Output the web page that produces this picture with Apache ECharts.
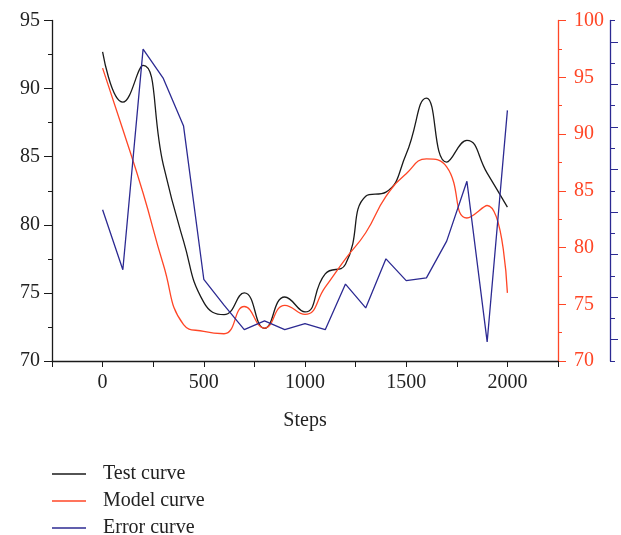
<!DOCTYPE html>
<html><head><meta charset="utf-8">
<script src="https://cdn.jsdelivr.net/npm/echarts@6/dist/echarts.min.js"></script>
<style>html,body{margin:0;padding:0;background:#fff}#c{width:621px;height:535px}</style>
</head><body><div id="c"></div>
<script>
var steps = [0,100,200,300,400,500,600,700,800,900,1000,1100,1200,1300,1400,1500,1600,1700,1800,1900,2000];
var testCurve = [92.7,89.0,91.7,84.4,78.8,74.3,73.4,75.0,72.4,74.7,73.6,76.4,77.1,82.1,82.4,85.2,89.3,84.6,86.2,83.8,81.3];
var modelCurve = [95.8,90.4,84.8,78.5,73.2,72.6,72.4,74.8,72.9,74.9,74.1,76.5,79.0,81.3,84.5,86.5,87.8,87.1,82.6,83.7,76.0];
var errorCurve = [81.1,76.7,92.9,90.75,87.25,76.0,74.1,72.3,72.95,72.3,72.75,72.3,75.65,73.9,77.5,75.9,76.1,78.8,83.2,71.4,88.4];
var seriesNames = ['Test curve','Model curve','Error curve'];

function pairs(vals){ return steps.map(function(s,i){ return [s, vals[i]]; }); }
var FONT = 'Liberation Serif';
var RED = '#ff4626', BLUE = '#2c2a92', BLACK = '#1a1a1a';

var chart = echarts.init(document.getElementById('c'), null, {renderer:'canvas'});
chart.setOption({
  backgroundColor:'#fff',
  animation:false,
  textStyle:{fontFamily:FONT},
  grid:{left:52, right:63, top:20.5, bottom:174, containLabel:false},
  legend:{
    orient:'vertical', left:52, top:464, height:80, padding:0,
    icon:'rect', itemWidth:34, itemHeight:1.6, itemGap:7,
    data:seriesNames,
    textStyle:{fontFamily:FONT, fontSize:20, color:'#222', lineHeight:20, padding:[0,0,0,12]}
  },
  xAxis:{
    type:'value', min:-250, max:2250, interval:250,
    name:'Steps', nameLocation:'middle', nameGap:50,
    nameTextStyle:{fontFamily:FONT, fontSize:20, color:'#222'},
    axisLine:{onZero:false, lineStyle:{color:BLACK, width:1.3}},
    axisTick:{length:6, lineStyle:{color:BLACK}},
    axisLabel:{fontFamily:FONT, fontSize:20, color:'#222', margin:12,
      formatter:function(v){ return (v % 500 === 0) ? String(v) : ''; }},
    splitLine:{show:false}
  },
  yAxis:[
    {type:'value', position:'left', min:70, max:95, interval:5,
     axisLine:{show:true, onZero:false, lineStyle:{color:BLACK, width:1.3}},
     axisTick:{show:true, length:8, lineStyle:{color:BLACK}},
     minorTick:{show:true, splitNumber:2, length:4, lineStyle:{color:BLACK}},
     axisLabel:{fontFamily:FONT, fontSize:20, color:'#222', margin:12},
     splitLine:{show:false}},
    {type:'value', position:'right', min:70, max:100, interval:5,
     axisLine:{show:true, onZero:false, lineStyle:{color:RED, width:1.3}},
     axisTick:{show:true, length:8, lineStyle:{color:RED}},
     minorTick:{show:true, splitNumber:2, length:4, lineStyle:{color:RED}},
     axisLabel:{fontFamily:FONT, fontSize:20, color:RED, margin:16},
     splitLine:{show:false}},
    {type:'value', position:'right', offset:52, min:0, max:16, interval:2,
     axisLine:{show:true, onZero:false, lineStyle:{color:BLUE, width:1.3}},
     axisTick:{show:true, length:5, lineStyle:{color:BLUE}},
     axisLabel:{show:false},
     splitLine:{show:false}},
    {type:'value', position:'right', offset:52, min:0, max:16,
     axisLine:{show:false, onZero:false},
     axisTick:{show:true, length:8, lineStyle:{color:BLUE}, customValues:[1,3,5,7,9,11,13,15]},
     axisLabel:{show:false},
     splitLine:{show:false}}
  ],
  series:[
    {name:seriesNames[0], type:'line', yAxisIndex:0, data:pairs(testCurve), smooth:0.5, symbol:'none',
     lineStyle:{color:BLACK, width:1.3}, itemStyle:{color:BLACK}},
    {name:seriesNames[1], type:'line', yAxisIndex:1, data:pairs(modelCurve), smooth:0.5, symbol:'none',
     lineStyle:{color:RED, width:1.3}, itemStyle:{color:RED}},
    {name:seriesNames[2], type:'line', yAxisIndex:0, data:pairs(errorCurve), smooth:false, symbol:'none',
     lineStyle:{color:BLUE, width:1.3}, itemStyle:{color:BLUE}}
  ]
});
</script></body></html>
